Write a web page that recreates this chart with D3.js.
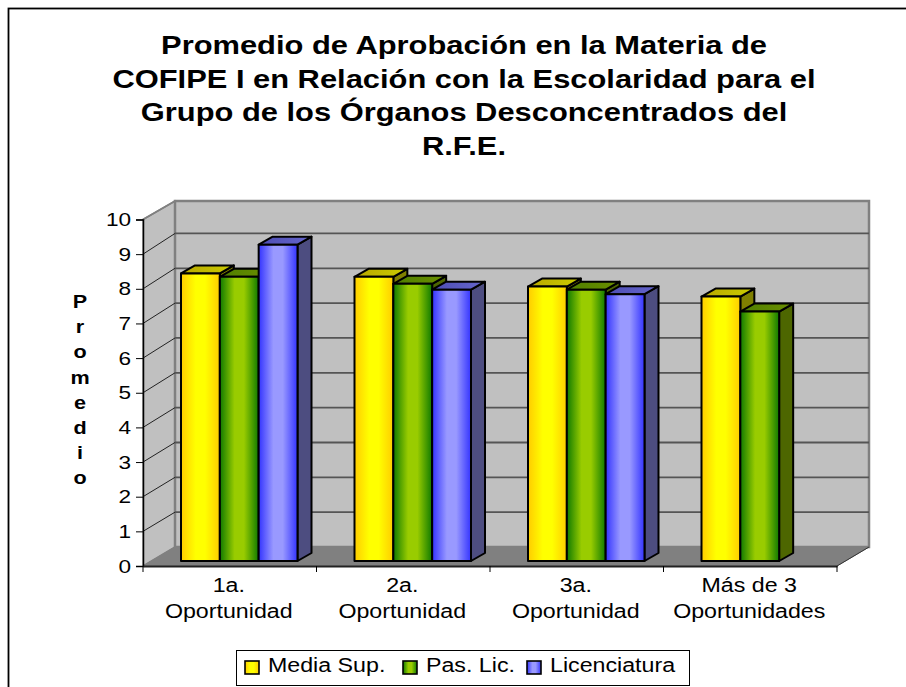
<!DOCTYPE html>
<html>
<head>
<meta charset="utf-8">
<script src="https://cdnjs.cloudflare.com/ajax/libs/d3/7.8.5/d3.min.js"></script>
<style>
  html, body { margin: 0; padding: 0; background: #fff; overflow: hidden; }
  text { font-family: "Liberation Sans", Arial, sans-serif; fill: #000; }
</style>
</head>
<body>
<svg id="chart" width="906" height="687"></svg>
<script>
var titleLines = [
  "Promedio de Aprobación en la Materia de",
  "COFIPE I en Relación con la Escolaridad para el",
  "Grupo de los Órganos Desconcentrados del",
  "R.F.E."
];
var yAxisTitle = "Promedio";
var categories = ["1a. Oportunidad", "2a. Oportunidad", "3a. Oportunidad", "Más de 3 Oportunidades"];
var categoryLines = [["1a.", "Oportunidad"], ["2a.", "Oportunidad"], ["3a.", "Oportunidad"], ["Más de 3", "Oportunidades"]];
var seriesNames = ["Media Sup.", "Pas. Lic.", "Licenciatura"];
var mediaSup = [8.3, 8.2, 7.92, 7.63];
var pasLic = [8.2, 8.0, 7.83, 7.2];
var licenciatura = [9.13, 7.83, 7.7, null];
var seriesValues = [mediaSup, pasLic, licenciatura];
var yTicks = [0, 1, 2, 3, 4, 5, 6, 7, 8, 9, 10];

var svg = d3.select("#chart");
var defs = svg.append("defs");

// how far the back wall and the bar tops are pushed back
var wallDx = 32, wallTop = 201;
var barDx = 14, barDy = -8;
// the original text is wider than Liberation Sans at the same height
var textStretch = 1.19;

var x = d3.scaleBand().domain(categories).range([143, 837]);
var xSeries = d3.scaleBand().domain(seriesNames).range([38, 154.5]);
var y = d3.scaleLinear().domain([0, 10]).range([566, 219.5]);
var yBack = d3.scaleLinear().domain([0, 10]).range([547, 198.6]);
var yBar = d3.scaleLinear().domain([0, 10]).range([561, 214.5]);

var colors = [
  {edge: "#ffcc00", mid: "#ffff00", topA: "#b8a800", topB: "#cccc00", side: "#808000"},
  {edge: "#0f7a00", mid: "#99cc00", topA: "#4f7f00", topB: "#6b8f00", side: "#4d6600"},
  {edge: "#3333ff", mid: "#9999ff", topA: "#4d4db3", topB: "#6666cc", side: "#4d4d80"}
];

colors.forEach(function(c, i) {
  var front = defs.append("linearGradient").attr("id", "front" + i);
  front.append("stop").attr("offset", "0%").attr("stop-color", c.edge);
  front.append("stop").attr("offset", "38%").attr("stop-color", c.mid);
  front.append("stop").attr("offset", "62%").attr("stop-color", c.mid);
  front.append("stop").attr("offset", "100%").attr("stop-color", c.edge);
  var top = defs.append("linearGradient").attr("id", "top" + i);
  top.append("stop").attr("offset", "0%").attr("stop-color", c.topA);
  top.append("stop").attr("offset", "100%").attr("stop-color", c.topB);
});

function place(px, py, stretch) {
  return "translate(" + px + "," + py + ") scale(" + stretch + ",1)";
}

// outer frame runs off the right and bottom of the picture
svg.append("rect")
  .attr("x", 8.5).attr("y", 8.5)
  .attr("width", 1000).attr("height", 1000)
  .attr("fill", "#fff").attr("stroke", "#000").attr("stroke-width", 1.8);

// title
svg.append("g").selectAll("text").data(titleLines).enter().append("text")
  .attr("transform", function(d, i) { return place(464, 54 + i * 33.6, 1.235); })
  .attr("text-anchor", "middle")
  .attr("font-size", 25)
  .attr("font-weight", "bold")
  .text(function(d) { return d; });

// walls and floor
var x0 = x.range()[0], x1 = x.range()[1];
function pts(list) { return list.map(function(p) { return p.join(","); }).join(" "); }

svg.append("polygon")
  .attr("points", pts([[x0, y(10)], [x0 + wallDx, wallTop], [x0 + wallDx, yBack(0)], [x0, y(0)]]))
  .attr("fill", "#c0c0c0").attr("stroke", "#808080").attr("stroke-width", 1.5);
svg.append("rect")
  .attr("x", x0 + wallDx).attr("y", wallTop)
  .attr("width", x1 - x0).attr("height", yBack(0) - wallTop)
  .attr("fill", "#c0c0c0").attr("stroke", "#808080").attr("stroke-width", 2.5);
svg.append("polygon")
  .attr("points", pts([[x0, y(0)], [x0 + wallDx, yBack(0)], [x1 + wallDx, yBack(0)], [x1, y(0)]]))
  .attr("fill", "#808080").attr("stroke", "#808080");

// gridlines on the back wall, slanted ones on the side wall
var gridTicks = yTicks.filter(function(t) { return t > 0 && t < 10; });
svg.append("g").selectAll("line").data(gridTicks).enter().append("line")
  .attr("x1", x0 + wallDx).attr("x2", x1 + wallDx)
  .attr("y1", function(d) { return yBack(d); })
  .attr("y2", function(d) { return yBack(d); })
  .attr("stroke", "#555").attr("stroke-width", 1.8);
svg.append("g").selectAll("line").data(gridTicks).enter().append("line")
  .attr("x1", x0).attr("x2", x0 + wallDx)
  .attr("y1", function(d) { return y(d); })
  .attr("y2", function(d) { return yBack(d); })
  .attr("stroke", "#222").attr("stroke-width", 1);
// the two slanted edges in darker gray
svg.append("line")
  .attr("x1", x0).attr("y1", y(10)).attr("x2", x0 + wallDx).attr("y2", wallTop)
  .attr("stroke", "#808080").attr("stroke-width", 1.5);
svg.append("line")
  .attr("x1", x1).attr("y1", y(0)).attr("x2", x1 + wallDx).attr("y2", yBack(0))
  .attr("stroke", "#333").attr("stroke-width", 1);

// bars, left to right so each box covers the side of the previous one
var bars = svg.append("g")
  .attr("stroke", "#000").attr("stroke-width", 2).attr("stroke-linejoin", "round");

categories.forEach(function(cat, ci) {
  seriesNames.forEach(function(name, si) {
    var v = seriesValues[si][ci];
    if (v === null) return;
    var left = x(cat) + xSeries(name);
    var right = left + xSeries.bandwidth();
    var top = yBar(v), base = yBar(0);
    bars.append("polygon")
      .attr("points", pts([[right, top], [right + barDx, top + barDy], [right + barDx, base + barDy], [right, base]]))
      .attr("fill", colors[si].side);
    bars.append("polygon")
      .attr("points", pts([[left, top], [left + barDx, top + barDy], [right + barDx, top + barDy], [right, top]]))
      .attr("fill", "url(#top" + si + ")");
    bars.append("rect")
      .attr("x", left).attr("y", top)
      .attr("width", right - left).attr("height", base - top)
      .attr("fill", "url(#front" + si + ")");
  });
});

// y axis
var yAxis = d3.axisLeft(y).tickValues(yTicks).tickSize(7).tickPadding(3).tickFormat(d3.format("d"));
var yG = svg.append("g").attr("transform", "translate(" + x0 + ",0)").call(yAxis);
yG.select(".domain").attr("stroke", "#000").attr("stroke-width", 1.5);
yG.selectAll("line").attr("stroke", "#000");
yG.selectAll("text")
  .attr("font-size", 19)
  .attr("transform", "scale(" + textStretch + ",1)")
  .style("font-family", '"Liberation Sans", Arial, sans-serif');

// x axis: ticks sit on the category boundaries, so labels get no tick of their own
var xAxis = d3.axisBottom(x).tickSize(0).tickFormat("");
var xG = svg.append("g").attr("transform", "translate(0," + y(0) + ")").call(xAxis);
xG.select(".domain").attr("stroke", "#222").attr("stroke-width", 2);

var edges = categories.map(function(c) { return x(c); }).concat([x1]);
svg.append("g").selectAll("line").data(edges).enter().append("line")
  .attr("x1", function(d) { return d; }).attr("x2", function(d) { return d; })
  .attr("y1", y(0)).attr("y2", y(0) + 6)
  .attr("stroke", "#000").attr("stroke-width", 1);

categories.forEach(function(cat, ci) {
  svg.append("g").selectAll("text").data(categoryLines[ci]).enter().append("text")
    .attr("transform", function(d, i) {
      return place(x(cat) + x.bandwidth() / 2 - 1, 592 + i * 26, textStretch);
    })
    .attr("text-anchor", "middle")
    .attr("font-size", 19.5)
    .text(function(d) { return d; });
});

// stacked y axis title
svg.append("g").selectAll("text").data(yAxisTitle.split("")).enter().append("text")
  .attr("transform", function(d, i) { return place(80, 308 + i * 25.2, 1.2); })
  .attr("text-anchor", "middle")
  .attr("font-size", 18)
  .attr("font-weight", "bold")
  .text(function(d) { return d; });

// legend
svg.append("rect")
  .attr("x", 236.5).attr("y", 650.5).attr("width", 453).attr("height", 35)
  .attr("fill", "#fff").attr("stroke", "#000").attr("stroke-width", 1);
var legendX = d3.scaleOrdinal().domain(seriesNames).range([245, 403, 527]);
var legend = svg.append("g").selectAll("g").data(seriesNames).enter().append("g")
  .attr("transform", function(d) { return "translate(" + legendX(d) + ",661)"; });
legend.append("rect")
  .attr("width", 14).attr("height", 13)
  .attr("fill", function(d, i) { return "url(#front" + i + ")"; })
  .attr("stroke", "#000").attr("stroke-width", 1.6);
legend.append("text")
  .attr("transform", place(23, 11, textStretch))
  .attr("font-size", 19.5)
  .text(function(d) { return d; });
</script>
</body>
</html>
